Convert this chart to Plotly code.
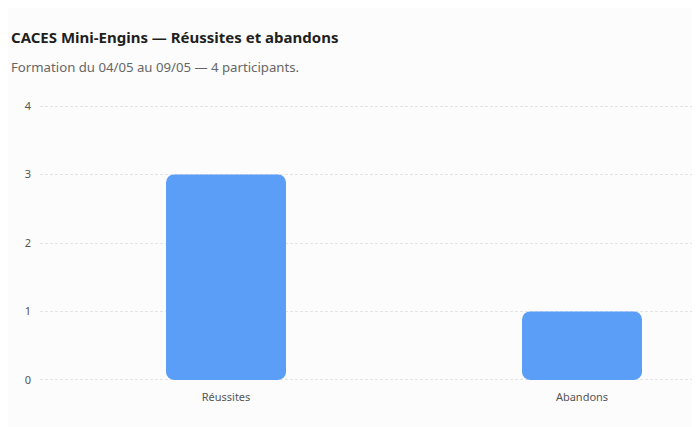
from plotly import graph_objects as go

# chart data
categories = ["Réussites", "Abandons"]
counts = [3, 1]
y_ticks = [0, 1, 2, 3, 4]

title_text = "CACES Mini-Engins — Réussites et abandons"
subtitle_text = "Formation du 04/05 au 09/05 — 4 participants."

BAR_COLOR = "#5b9ef8"
FONT = "Noto Sans"
PLOT_H = 277.6  # plot area height in px

fig = go.Figure()

# an explicit base makes plotly round all four corners of each bar
fig.add_trace(go.Bar(
    x=categories,
    y=counts,
    base=[0] * len(counts),
    width=0.337,
    marker=dict(color=BAR_COLOR, cornerradius=8, line=dict(width=0)),
    hovertemplate="%{x}: %{y}<extra></extra>",
))

# the page body has an 8px margin, so the figure is a bit smaller than the window
fig.update_layout(
    width=692,
    height=419,
    showlegend=False,
    paper_bgcolor="#fcfcfc",
    plot_bgcolor="#fcfcfc",
    font=dict(family=FONT, size=11, color="#555555"),
    margin=dict(l=32, r=5, t=95.95, b=45.45, pad=0),
    xaxis=dict(
        range=[-0.5225, 1.3174],
        showgrid=False,
        showline=False,
        zeroline=False,
        ticks="",
        ticklabelstandoff=7,
        tickfont=dict(size=11, color="#555555"),
        fixedrange=True,
    ),
    yaxis=dict(
        # a little slack so the gridlines at 0 and 4 are not clipped
        range=[-0.03, 4.03],
        tickvals=y_ticks,
        showgrid=True,
        gridcolor="#e4e4e4",
        griddash="3px,2px",
        gridwidth=1,
        zeroline=False,
        showline=False,
        ticks="",
        ticklabelstandoff=8,
        tickfont=dict(size=11, color="#555555"),
        fixedrange=True,
    ),
    annotations=[
        dict(
            text="<b>" + title_text + "</b>",
            xref="paper", yref="paper",
            x=-31 / 655, y=1 + 67 / PLOT_H,
            xanchor="left", yanchor="middle",
            showarrow=False,
            font=dict(family=FONT, size=15, color="#1f1f1f"),
        ),
        dict(
            text=subtitle_text,
            xref="paper", yref="paper",
            x=-31 / 655, y=1 + 37 / PLOT_H,
            xanchor="left", yanchor="middle",
            showarrow=False,
            font=dict(family=FONT, size=13.2, color="#666666"),
        ),
    ],
)

fig.write_html("out.html")
